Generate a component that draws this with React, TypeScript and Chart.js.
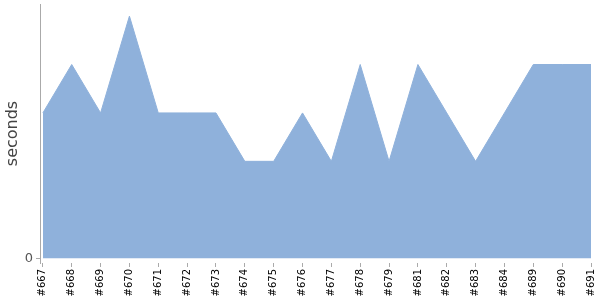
import React, { useEffect, useRef } from "react";
import { Chart, registerables } from "chart.js";

Chart.register(...registerables);

const categories = ["#667","#668","#669","#670","#671","#672","#673","#674","#675","#676","#677","#678","#679","#681","#682","#683","#684","#689","#690","#691"];
const seconds = [3,4,3,5,3,3,3,2,2,3,2,4,2,4,3,2,3,4,4,4];
const yTickValues = [0];

const FILL = "rgb(143,177,219)";

export default function App() {
  const ref = useRef<HTMLCanvasElement>(null);
  useEffect(() => {
    const ctx = ref.current!.getContext("2d")!;
    const chart = new Chart(ctx, {
      type: "line",
      data: {
        datasets: [
          {
            data: seconds.map((v, i) => ({ x: i, y: v })),
            fill: "origin",
            backgroundColor: FILL,
            borderColor: FILL,
            borderWidth: 1,
            pointRadius: 0,
            tension: 0,
          },
        ],
      },
      options: {
        animation: false,
        responsive: false,
        layout: { padding: { top: 4, right: 9, left: 0, bottom: 0 } },
        plugins: { legend: { display: false }, tooltip: { enabled: false } },
        scales: {
          x: {
            type: "linear",
            min: -0.1,
            max: categories.length - 1,
            afterBuildTicks: (s: any) => {
              s.ticks = categories.map((_, i) => ({ value: i }));
            },
            afterFit: (s: any) => {
              s.height = 37;
              s.paddingLeft = 0;
              s.paddingRight = 0;
            },
            border: { display: false },
            grid: { drawOnChartArea: false, drawTicks: true, tickLength: 4, color: "#aaa" },
            ticks: {
              autoSkip: false,
              maxRotation: 90,
              minRotation: 90,
              padding: 2,
              color: "#000",
              font: { family: "DejaVu Sans", size: 10 },
              callback: (v: any) => categories[v as number] ?? "",
            },
          },
          y: {
            min: -0.1,
            max: 5.25,
            afterBuildTicks: (s: any) => {
              s.ticks = yTickValues.map((v) => ({ value: v }));
            },
            afterFit: (s: any) => {
              s.width = 40;
              s.paddingTop = 0;
              s.paddingBottom = 0;
            },
            border: { display: true, color: "#aaa", width: 1 },
            grid: { drawOnChartArea: false, drawTicks: true, tickLength: 4, color: "#aaa" },
            ticks: {
              padding: 3,
              color: "#555",
              font: { family: "DejaVu Sans", size: 13 },
            },
            title: {
              display: true,
              text: "seconds",
              color: "#444",
              font: { family: "DejaVu Sans", size: 16 },
              padding: { top: 3, bottom: 0 },
            },
          },
        },
      },
    });
    return () => chart.destroy();
  }, []);
  return (
    <div style={{ position: "absolute", left: 0, top: 0, width: 600, height: 300 }}>
      <canvas ref={ref} width={600} height={300} />
    </div>
  );
}
